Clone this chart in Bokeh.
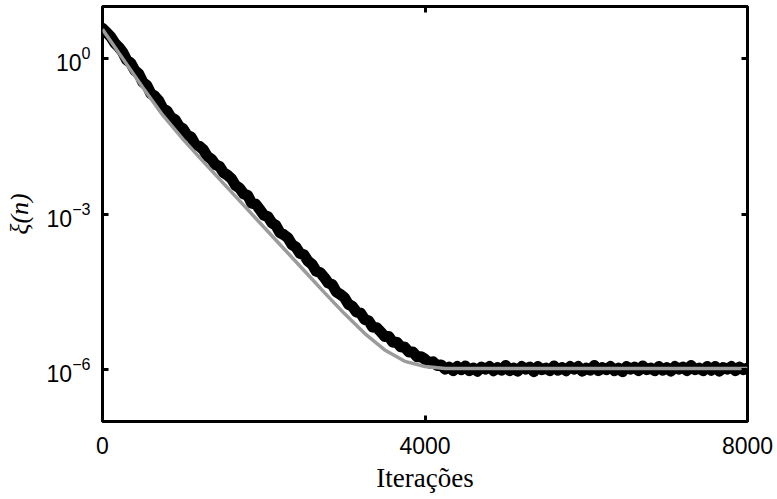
from bokeh.plotting import figure
from bokeh.models import (Range1d, FixedTicker, LogAxis, LinearAxis,
                          LogTickFormatter, CustomJSTickFormatter, ColumnDataSource)
from bokeh.embed import file_html
from bokeh.resources import INLINE

# Iteration grid of the simulated learning curve (one sample every 50 iterations)
sim_iter = list(range(0, 8001, 50))

# Simulated MSE, log10 of xi(n)
sim_log10 = [
    0.58, 0.50, 0.42, 0.30, 0.22, 0.12, -0.03, -0.09, -0.23, -0.30,
    -0.46, -0.52, -0.68, -0.73, -0.82, -0.97, -1.01, -1.14, -1.18, -1.31,
    -1.36, -1.48, -1.52, -1.66, -1.69, -1.76, -1.89, -1.94, -2.05, -2.08,
    -2.20, -2.25, -2.32, -2.45, -2.50, -2.61, -2.64, -2.79, -2.81, -2.91,
    -3.02, -3.05, -3.17, -3.22, -3.36, -3.40, -3.46, -3.59, -3.64, -3.76,
    -3.79, -3.91, -3.97, -4.10, -4.13, -4.22, -4.33, -4.36, -4.50, -4.55,
    -4.61, -4.74, -4.78, -4.89, -4.91, -5.03, -5.06, -5.18, -5.19, -5.27,
    -5.36, -5.36, -5.47, -5.47, -5.56, -5.57, -5.66, -5.66, -5.75, -5.75,
    -5.80, -5.87, -5.85, -5.92, -5.91, -5.99, -5.95, -6.02, -5.94, -6.00,
    -5.93, -6.02, -5.97, -6.03, -5.95, -5.99, -5.94, -6.02, -5.96, -6.01,
    -5.92, -6.02, -5.97, -6.03, -5.94, -5.99, -5.95, -6.04, -5.94, -6.00,
    -5.97, -6.02, -5.93, -6.01, -5.96, -6.02, -5.94, -5.99, -5.94, -6.03,
    -5.97, -6.01, -5.92, -6.02, -5.96, -6.00, -5.94, -6.02, -5.97, -6.04,
    -5.94, -5.99, -5.95, -6.02, -5.93, -6.00, -5.97, -6.02, -5.94, -6.01,
    -5.96, -6.03, -5.94, -5.99, -5.95, -6.02, -5.92, -6.00, -5.97, -6.02,
    -5.94, -6.01, -5.94, -6.03, -5.96, -5.99, -5.94, -6.02, -5.95, -6.00,
    -5.97,
]

# Theoretical learning curve, log10 of xi(n)
theory_iter = [0, 250, 500, 750, 1000, 1250, 1500, 1750, 2000, 2250, 2500,
               2750, 3000, 3250, 3500, 3750, 4000, 4250, 8000]
theory_log10 = [0.56, 0.00, -0.56, -1.10, -1.56, -1.99, -2.41, -2.83, -3.25,
                -3.67, -4.09, -4.51, -4.92, -5.30, -5.62, -5.84, -5.94, -5.98,
                -5.98]

y_ticks = [1e-6, 1e-3, 1e0]
x_ticks = [0, 4000, 8000]

sim = ColumnDataSource(dict(x=sim_iter, y=[10 ** v for v in sim_log10]))
theory = ColumnDataSource(dict(x=theory_iter, y=[10 ** v for v in theory_log10]))

p = figure(width=777, height=499, y_axis_type="log",
           x_range=Range1d(0, 8000), y_range=Range1d(1e-7, 1e1),
           output_backend="svg", toolbar_location=None,
           min_border_left=102, min_border_right=30,
           min_border_top=6, min_border_bottom=78)

p.background_fill_color = "white"
p.border_fill_color = "white"
p.outline_line_color = "black"
p.outline_line_width = 3
p.grid.visible = False

p.line("x", "y", source=sim, line_color="black", line_width=11,
       line_join="round", line_cap="round")
p.line("x", "y", source=theory, line_color="#9b9b9b", line_width=3.5)

tick_font = "Liberation Sans"
serif_font = "Liberation Serif"

# left axis
yax = p.yaxis[0]
yax.ticker = FixedTicker(ticks=y_ticks)
yax.formatter = LogTickFormatter()
yax.axis_line_color = None
yax.major_tick_in = 6
yax.major_tick_out = 0
yax.major_tick_line_width = 3
yax.minor_tick_line_color = None
yax.major_label_text_font = tick_font
yax.major_label_text_font_size = "23px"
yax.major_label_text_color = "black"
yax.major_label_standoff = 12
yax.axis_label = "ξ(n)"
yax.axis_label_text_font = serif_font
yax.axis_label_text_font_style = "italic"
yax.axis_label_text_font_size = "26px"
yax.axis_label_text_color = "black"
yax.axis_label_standoff = 10

# bottom axis
xax = p.xaxis[0]
xax.ticker = FixedTicker(ticks=x_ticks)
xax.axis_line_color = None
xax.major_tick_in = 6
xax.major_tick_out = 0
xax.major_tick_line_width = 3
xax.minor_tick_line_color = None
xax.major_label_text_font = tick_font
xax.major_label_text_font_size = "23px"
xax.major_label_text_color = "black"
xax.major_label_standoff = 15
xax.axis_label = "Iterações"
xax.axis_label_text_font = serif_font
xax.axis_label_text_font_style = "normal"
xax.axis_label_text_font_size = "27px"
xax.axis_label_text_color = "black"
xax.axis_label_standoff = 6

blank = CustomJSTickFormatter(code="return '';")

# mirrored ticks on the right and top edges
right = LogAxis(ticker=FixedTicker(ticks=y_ticks), formatter=blank,
                axis_line_color=None, major_tick_in=6, major_tick_out=0,
                major_tick_line_width=3, minor_tick_line_color=None,
                major_label_standoff=0)
p.add_layout(right, "right")

top = LinearAxis(ticker=FixedTicker(ticks=[4000]), formatter=blank,
                 axis_line_color=None, major_tick_in=6, major_tick_out=0,
                 major_tick_line_width=3, minor_tick_line_color=None,
                 major_label_standoff=0)
p.add_layout(top, "above")

open("out.html", "w").write(file_html(p, INLINE))
